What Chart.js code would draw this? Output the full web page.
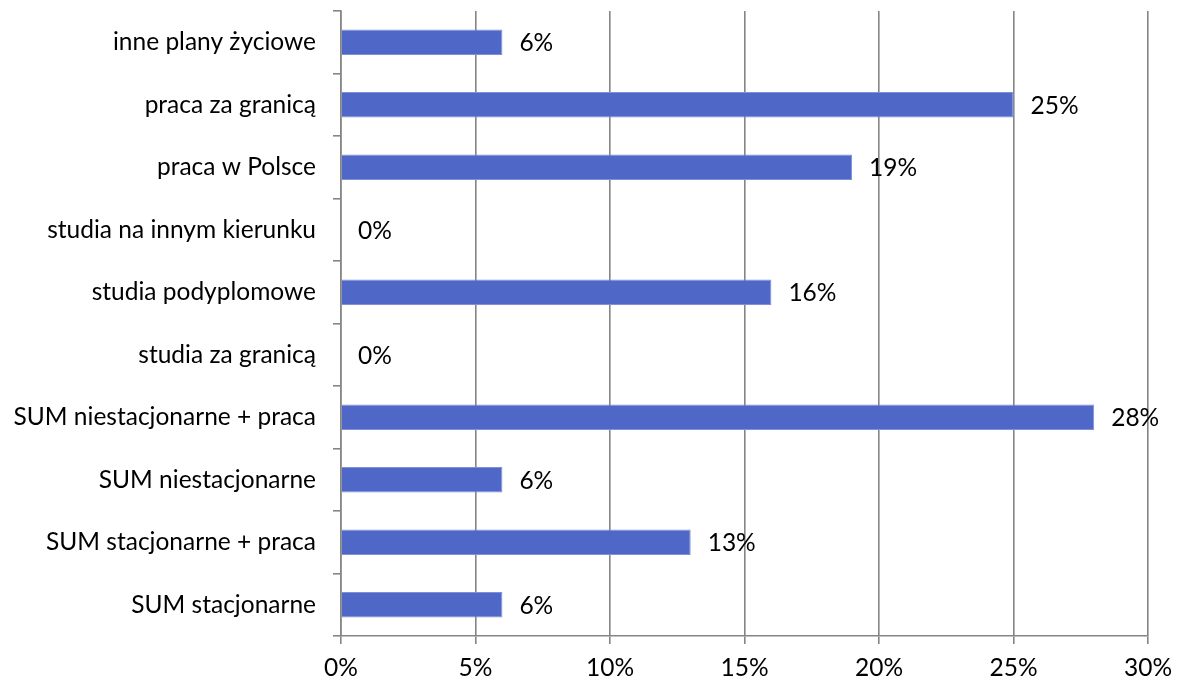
<!DOCTYPE html>
<html>
<head>
<meta charset="utf-8">
<script src="https://cdn.jsdelivr.net/npm/chart.js@4/dist/chart.umd.min.js"></script>
<style>
  html, body { margin: 0; padding: 0; background: #fff; }
  #wrap { width: 1180px; height: 684px; }
</style>
</head>
<body>
<div id="wrap"><canvas id="chart" width="1180" height="684"></canvas></div>
<script>
const categories = [
  'inne plany życiowe',
  'praca za granicą',
  'praca w Polsce',
  'studia na innym kierunku',
  'studia podyplomowe',
  'studia za granicą',
  'SUM niestacjonarne + praca',
  'SUM niestacjonarne',
  'SUM stacjonarne + praca',
  'SUM stacjonarne'
];
const shares = [6, 25, 19, 0, 16, 0, 28, 6, 13, 6];
const xTicks = [0, 5, 10, 15, 20, 25, 30];

const FONT = 'Lato, "Open Sans", sans-serif';
const AXIS = '#858585';

// value labels to the right of each bar
const barLabels = {
  id: 'barLabels',
  afterDatasetsDraw(chart) {
    const ctx = chart.ctx;
    const meta = chart.getDatasetMeta(0);
    ctx.save();
    ctx.font = '24.5px ' + FONT;
    ctx.fillStyle = '#000';
    ctx.textAlign = 'left';
    ctx.textBaseline = 'middle';
    meta.data.forEach((bar, i) => {
      ctx.fillText(shares[i] + '%', bar.x + 17, bar.y + 1);
    });
    ctx.restore();
  }
};

new Chart(document.getElementById('chart'), {
  type: 'bar',
  data: {
    labels: categories,
    datasets: [{
      data: shares,
      backgroundColor: '#4F68C7',
      borderColor: '#7D90D8',
      borderWidth: 1,
      categoryPercentage: 0.41,
      barPercentage: 1.0
    }]
  },
  options: {
    indexAxis: 'y',
    responsive: false,
    animation: false,
    layout: { padding: { top: 11, right: 32, bottom: 0, left: 0 } },
    plugins: {
      legend: { display: false },
      tooltip: { enabled: false }
    },
    scales: {
      x: {
        min: 0,
        max: 30,
        afterBuildTicks(axis) { axis.ticks = xTicks.map(v => ({ value: v })); },
        afterFit(axis) { axis.height = 48; axis.paddingLeft = 0; axis.paddingRight = 0; },
        grid: { color: AXIS, lineWidth: 1.6, tickLength: 8 },
        border: { color: AXIS, width: 1.6 },
        ticks: {
          color: '#000',
          font: { family: FONT, size: 24.5 },
          padding: 9,
          callback: v => v + '%',
          maxRotation: 0
        }
      },
      y: {
        afterFit(axis) { axis.width = 341; axis.paddingTop = 0; axis.paddingBottom = 0; },
        grid: { drawOnChartArea: false, color: AXIS, lineWidth: 1.6, tickLength: 8, offset: true },
        border: { color: AXIS, width: 1.6 },
        ticks: {
          color: '#000',
          font: { family: FONT, size: 24.5 },
          padding: 17
        }
      }
    }
  },
  plugins: [barLabels]
});
</script>
</body>
</html>
